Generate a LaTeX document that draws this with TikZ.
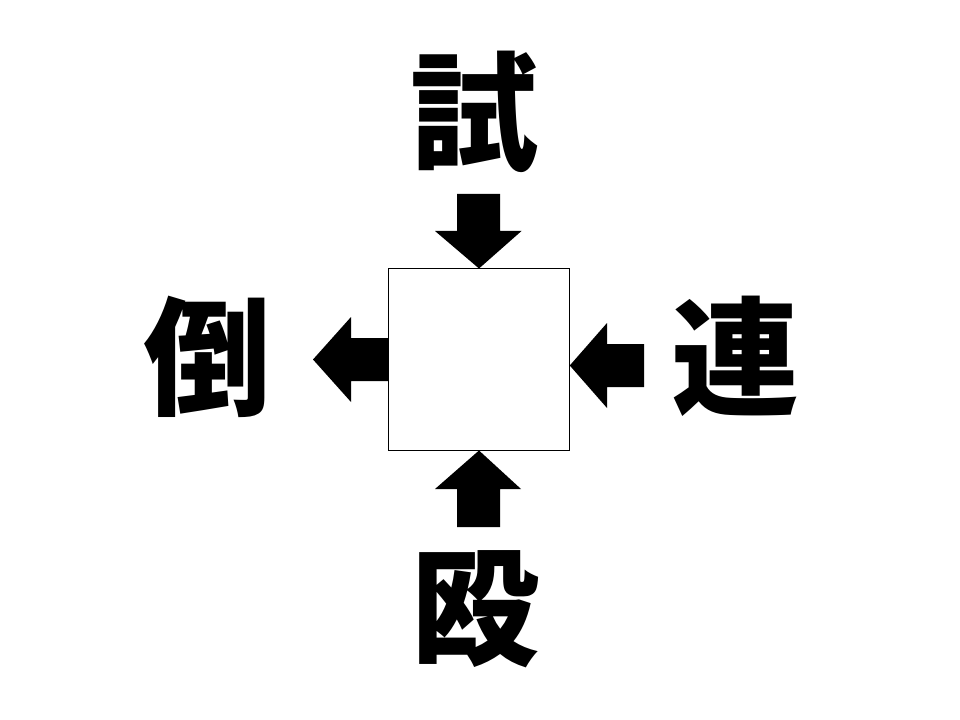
\documentclass[tikz,border=0pt]{standalone}
\usepackage{fontspec}
\newfontfamily\cjk{Noto Sans CJK JP}
\usetikzlibrary{calc}
\tikzset{
  kanji/.style={inner sep=0pt, font=\cjk\bfseries\fontsize{96pt}{96pt}\selectfont, text height=84.5pt, text depth=11.5pt, anchor=center},
  blankbox/.style={draw=black, line width=0.75pt, fill=white, minimum width=180.5*0.75pt, minimum height=181*0.75pt, inner sep=0pt},
  arrowfill/.style={fill=black, draw=none}
}
\begin{document}
\begin{tikzpicture}[x=0.75pt,y=-0.75pt]
\useasboundingbox (0,0) rectangle (960,720);
\fill[white] (0,0) rectangle (960,720);
\node[blankbox] (box) at (479,359.5) {};
\node[kanji] (top) at (474.5,112) {試};
\node[kanji] (left) at (207.5,357) {倒};
\node[kanji] (right) at (735,357) {連};
\node[kanji] (bottom) at (475.5,607) {殴};
% top arrow (into box)
\fill[arrowfill] (457,194) -- (500,194) -- (500,231) -- (521.5,231) -- (box.north) -- (435,231) -- (457,231) -- cycle;
% left arrow (out of box)
\fill[arrowfill] (box.west |- 0,338) -- (351,338) -- (351,317) -- (313,359.5) -- (351,402) -- (351,381) -- (box.west |- 0,381) -- cycle;
% right arrow (into box)
\fill[arrowfill] (644,344) -- (607,344) -- (607,323) -- (box.east |- 0,365.5) -- (607,408) -- (607,387) -- (644,387) -- cycle;
% bottom arrow (into box)
\fill[arrowfill] (box.south) -- (521,489) -- (500,489) -- (500,527) -- (457,527) -- (457,489) -- (435,489) -- cycle;
\draw[line width=0.75pt] (box.south west) rectangle (box.north east);
\end{tikzpicture}
\end{document}
